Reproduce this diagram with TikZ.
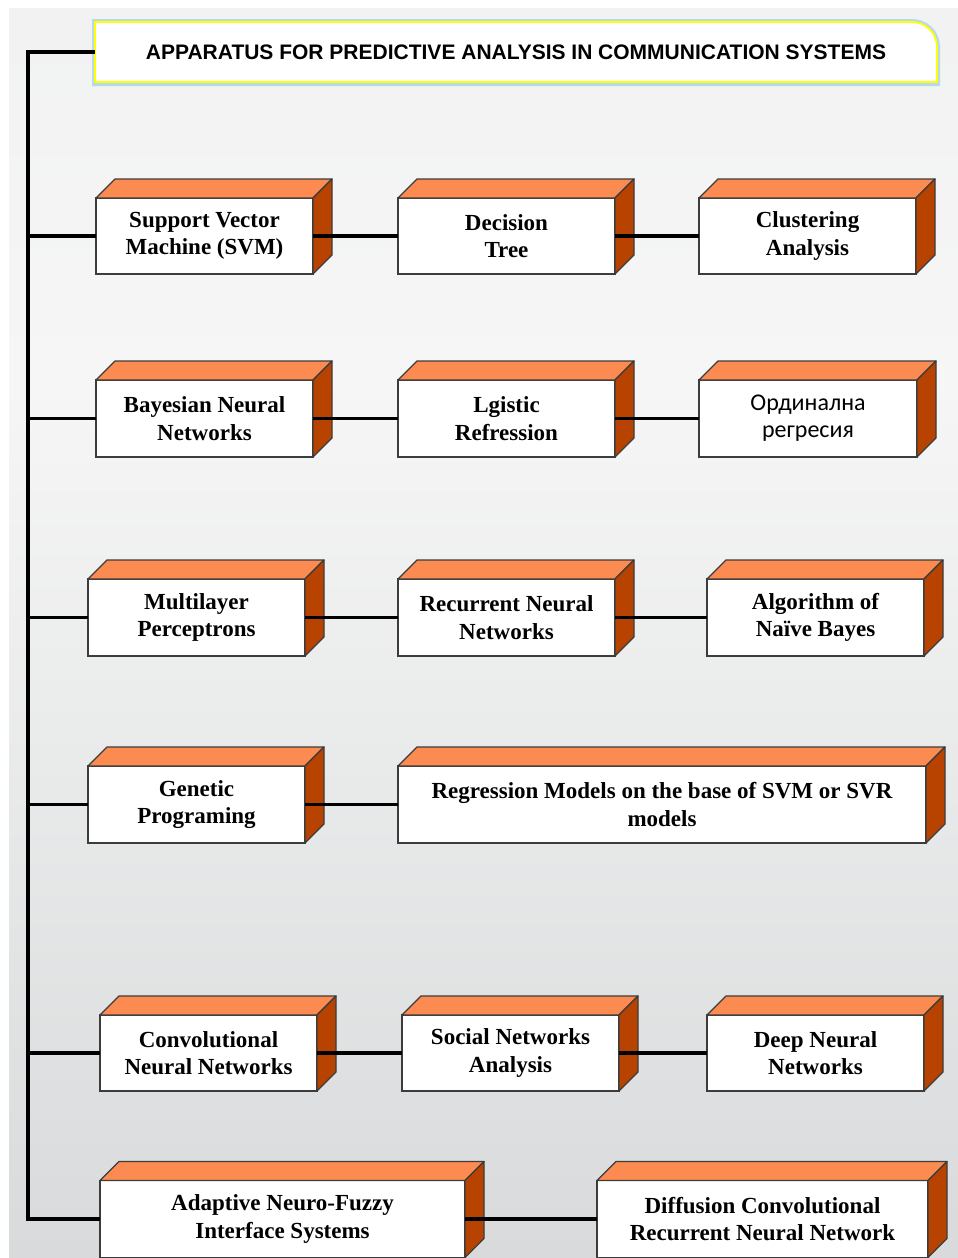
\documentclass[tikz,border=0pt]{standalone}
\usepackage{fontspec}
\setmainfont{Liberation Serif}
\newfontfamily\titlefont{Liberation Sans}
\newfontfamily\cyrfont{Carlito}
\usetikzlibrary{calc}
\definecolor{toporange}{HTML}{FC8B52}
\definecolor{sideorange}{HTML}{B84300}
\definecolor{boxline}{HTML}{3C3C3C}
\definecolor{bgtop}{HTML}{EAEBEC}
\definecolor{bgmid}{HTML}{F6F6F6}
\definecolor{bglow}{HTML}{D8DADB}
\definecolor{bgbot}{HTML}{C4C7C9}
\definecolor{glowblue}{HTML}{A8D3EE}
\definecolor{titleyellow}{HTML}{FFFF00}
\pgfdeclareverticalshading{bgshade}{100bp}{color(0bp)=(bgbot); color(25bp)=(bglow); color(60bp)=(bgmid); color(100bp)=(bgtop)}
\pgfdeclarelayer{bg}
\pgfsetlayers{bg,main}
\tikzset{
  box/.style={draw=boxline, line width=1.3pt, fill=white, inner sep=0pt, outer sep=0pt,
    minimum height=77pt, align=center, font=\bfseries\fontsize{23}{27.5}\selectfont},
  cyrbox/.style={box, font=\cyrfont\fontsize{24}{27}\selectfont},
  conn/.style={draw=black, line width=3.4pt},
  topface/.style={fill=toporange, draw=boxline, line width=1.3pt, line join=round},
  sideface/.style={fill=sideorange, draw=boxline, line width=1.3pt, line join=round}
}
\begin{document}
\begin{tikzpicture}[x=1pt, y=-1pt]
\useasboundingbox (0,0) rectangle (958,1258);
\begin{pgfonlayer}{bg}
  \shade[shading=bgshade] (9,8) rectangle (958,1258);
\end{pgfonlayer}

% title
\node[inner sep=0pt, outer sep=0pt, minimum width=842pt, minimum height=60pt,
      font=\titlefont\bfseries\fontsize{21}{24}\selectfont] (title) at (516,52)
  {APPARATUS FOR PREDICTIVE ANALYSIS IN COMMUNICATION SYSTEMS};
\begin{pgfonlayer}{bg}
  \path[draw=glowblue, line width=6pt, opacity=0.8, fill=white]
    ([yshift=-1pt]title.south west) -- (title.north west) -- ([xshift=-25pt]title.north east)
    .. controls ([xshift=-11pt]title.north east) and ([yshift=-11pt]title.north east) ..
    ([yshift=-25pt]title.north east) -- ([yshift=-1pt]title.south east) -- cycle;
  \path[draw=titleyellow, line width=1.8pt, fill=white]
    (title.south west) -- (title.north west) -- ([xshift=-25pt]title.north east)
    .. controls ([xshift=-11pt]title.north east) and ([yshift=-11pt]title.north east) ..
    ([yshift=-25pt]title.north east) -- (title.south east) -- cycle;
\end{pgfonlayer}

% row 1
\node[box, minimum width=217pt, minimum height=76pt] (a1) at (204.5,236) {Support Vector\\Machine (SVM)};
\node[box, minimum width=217pt, minimum height=76pt] (b1) at (506.5,236) {Decision\\Tree};
\node[box, minimum width=217pt, minimum height=76pt] (c1) at (807.5,236) {Clustering\\Analysis};
% row 2
\node[box, minimum width=217pt] (a2) at (204.5,418.5) {Bayesian Neural\\Networks};
\node[box, minimum width=217pt] (b2) at (506.5,418.5) {Lgistic\\Refression};
\node[cyrbox, minimum width=218pt] (c2) at (808,418.5) {Ординална\\регресия};
% row 3
\node[box, minimum width=217pt] (a3) at (196.5,617.5) {Multilayer\\Perceptrons};
\node[box, minimum width=217pt] (b3) at (506.5,617.5) {Recurrent Neural\\Networks};
\node[box, minimum width=217pt] (c3) at (815.5,617.5) {Algorithm of\\Naïve Bayes};
% row 4
\node[box, minimum width=217pt] (a4) at (196.5,804.5) {Genetic\\Programing};
\node[box, minimum width=528pt] (b4) at (662,804.5) {Regression Models on the base of SVM or SVR\\models};
% row 5
\node[box, minimum width=217pt, minimum height=76pt] (a5) at (208.5,1053) {Convolutional\\Neural Networks};
\node[box, minimum width=217pt, minimum height=76pt] (b5) at (510.5,1053) {Social Networks\\Analysis};
\node[box, minimum width=217pt, minimum height=76pt] (c5) at (815.5,1053) {Deep Neural\\Networks};
% row 6
\node[box, minimum width=365pt] (a6) at (282.5,1219) {Adaptive Neuro-Fuzzy\\Interface Systems};
\node[box, minimum width=331pt] (b6) at (762.5,1219) {Diffusion Convolutional\\Recurrent Neural Network};

% 3D faces
\foreach \n in {a1,b1,c1,a2,b2,c2,a3,b3,c3,a4,b4,a5,b5,c5,a6,b6}{
  \path[topface] (\n.north west) -- ++(19,-19) -- ([shift={(19,-19)}]\n.north east) -- (\n.north east) -- cycle;
  \path[sideface] (\n.north east) -- ++(19,-19) -- ([shift={(19,-19)}]\n.south east) -- (\n.south east) -- cycle;
}

% trunk
\coordinate (trunktop) at (28,52);
\draw[conn] (title.west) -- (trunktop) |- (a6.west);
\foreach \n in {a1,a2,a3,a4,a5}{
  \draw[conn] (trunktop |- \n.west) -- (\n.west);
}
% row connectors
\draw[conn] (a1.east) -- (b1.west);
\draw[conn] (b1.east) -- (c1.west);
\draw[conn] (a2.east) -- (b2.west);
\draw[conn] (b2.east) -- (c2.west);
\draw[conn] (a3.east) -- (b3.west);
\draw[conn] (b3.east) -- (c3.west);
\draw[conn] (a4.east) -- (b4.west);
\draw[conn] (a5.east) -- (b5.west);
\draw[conn] (b5.east) -- (c5.west);
\draw[conn] (a6.east) -- (b6.west);
\end{tikzpicture}
\end{document}
